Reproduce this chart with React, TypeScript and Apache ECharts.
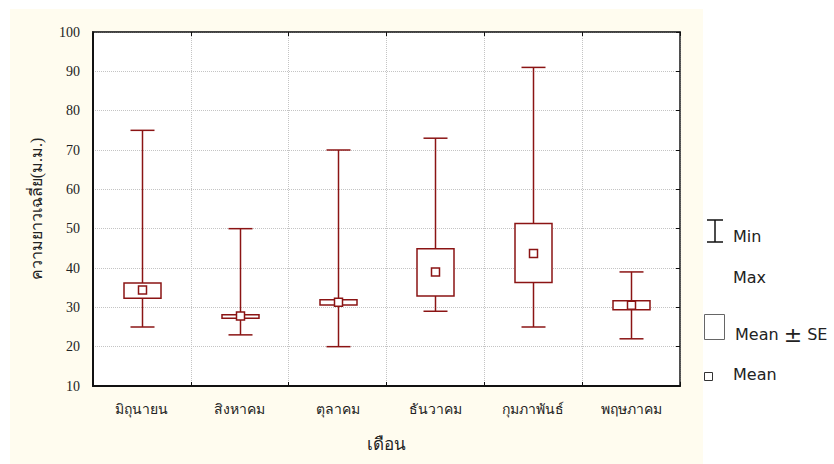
import React, { useEffect, useRef } from "react";
import * as echarts from "echarts";

const categories = ["มิถุนายน", "สิงหาคม", "ตุลาคม", "ธันวาคม", "กุมภาพันธ์", "พฤษภาคม"];
const minVals = [25, 23, 20, 29, 25, 22];
const maxVals = [75, 50, 70, 73, 91, 39];
const meanVals = [34.4, 27.8, 31.3, 39.0, 43.7, 30.5];
const seLow = [32.3, 27.2, 30.6, 32.9, 36.3, 29.4];
const seHigh = [36.2, 28.1, 31.9, 44.9, 51.3, 31.7];
const yTicks = { min: 10, max: 100, interval: 10 };

const RED = "#8B1414";

export default function App() {
  const ref = useRef<HTMLDivElement>(null);
  useEffect(() => {
    if (!ref.current) return;
    const chart = echarts.init(ref.current, undefined, { renderer: "svg" });
    const data = categories.map((_, i) => [i, minVals[i], maxVals[i], seLow[i], seHigh[i], meanVals[i]]);
    const serif = "'Liberation Serif', 'DejaVu Serif', serif";
    const sans = "'DejaVu Sans', 'Open Sans', sans-serif";
    chart.setOption({
      animation: false,
      backgroundColor: "#ffffff",
      graphic: [
        { type: "rect", z: -10, silent: true, shape: { x: 10, y: 9, width: 693, height: 455 }, style: { fill: "#FFFCEF" } },
        // legend
        { type: "line", shape: { x1: 707, y1: 220, x2: 723, y2: 220 }, style: { stroke: "#111", lineWidth: 1.5 } },
        { type: "line", shape: { x1: 715, y1: 220, x2: 715, y2: 242 }, style: { stroke: "#111", lineWidth: 1.5 } },
        { type: "line", shape: { x1: 707, y1: 242, x2: 723, y2: 242 }, style: { stroke: "#111", lineWidth: 1.5 } },
        { type: "text", x: 733, y: 236, style: { text: "Min", font: `16px ${sans}`, fill: "#222", verticalAlign: "middle" } },
        { type: "text", x: 733, y: 277, style: { text: "Max", font: `16px ${sans}`, fill: "#222", verticalAlign: "middle" } },
        { type: "rect", shape: { x: 704.5, y: 314.5, width: 20, height: 25 }, style: { fill: "none", stroke: "#666", lineWidth: 1 } },
        {
          type: "text", x: 735, y: 334,
          style: {
            text: "{a|Mean }{b|±}{a| SE}",
            verticalAlign: "middle",
            rich: {
              a: { fontFamily: sans, fontSize: 16, fill: "#222", color: "#222" },
              b: { fontFamily: sans, fontSize: 22, fill: "#222", color: "#222" },
            },
          },
        },
        { type: "rect", shape: { x: 704.5, y: 372.5, width: 8, height: 8 }, style: { fill: "none", stroke: "#333", lineWidth: 1 } },
        { type: "text", x: 733, y: 374, style: { text: "Mean", font: `16px ${sans}`, fill: "#222", verticalAlign: "middle" } },
      ],
      grid: {
        left: 93, right: 154, top: 32, bottom: 78,
        show: true, backgroundColor: "#ffffff", borderColor: "#444", borderWidth: 1.5,
      },
      xAxis: [
        {
          type: "category",
          data: categories,
          position: "bottom",
          name: "เดือน",
          nameLocation: "middle",
          nameGap: 50,
          nameTextStyle: { fontFamily: serif, fontSize: 17, color: "#222" },
          axisLine: { show: true, lineStyle: { color: "#111", width: 2 } },
          axisTick: { show: true, inside: true, length: 4, lineStyle: { color: "#111" } },
          axisLabel: { fontFamily: serif, fontSize: 14, color: "#222", margin: 16 },
          splitLine: { show: true, lineStyle: { color: "#c4c4c4", type: "dotted", width: 1 } },
        },
        {
          type: "category",
          data: categories,
          position: "top",
          axisLine: { show: true, lineStyle: { color: "#333", width: 1.5 } },
          axisTick: { show: true, inside: true, length: 4, lineStyle: { color: "#111" } },
          axisLabel: { show: false },
          splitLine: { show: false },
        },
      ],
      yAxis: [
        {
          type: "value",
          min: yTicks.min, max: yTicks.max, interval: yTicks.interval,
          name: "ความยาวเฉลี่ย(ม.ม.)",
          nameLocation: "middle",
          nameGap: 49,
          nameTextStyle: { fontFamily: serif, fontSize: 16, color: "#222" },
          axisLine: { show: true, lineStyle: { color: "#111", width: 2 } },
          axisTick: { show: false },
          axisLabel: { fontFamily: serif, fontSize: 14, color: "#222", margin: 13 },
          splitLine: { show: true, lineStyle: { color: "#c4c4c4", type: "dotted", width: 1 } },
        },
        {
          type: "value",
          position: "right",
          min: yTicks.min, max: yTicks.max, interval: yTicks.interval,
          axisLine: { show: true, lineStyle: { color: "#444", width: 1.5 } },
          axisTick: { show: true, inside: true, length: 4, lineStyle: { color: "#111" } },
          axisLabel: { show: false },
          splitLine: { show: false },
        },
      ],
      series: [
        {
          type: "custom",
          xAxisIndex: 0,
          yAxisIndex: 0,
          data,
          renderItem: (params: any, api: any) => {
            const i = api.value(0);
            const pMin = api.coord([i, api.value(1)]);
            const pMax = api.coord([i, api.value(2)]);
            const pLo = api.coord([i, api.value(3)]);
            const pHi = api.coord([i, api.value(4)]);
            const pMean = api.coord([i, api.value(5)]);
            const x = Math.round(pMin[0]) + 0.5;
            const capW = 12, boxW = 18.5, m = 4;
            const st = { stroke: RED, lineWidth: 1.5, fill: "none" };
            return {
              type: "group",
              children: [
                { type: "line", shape: { x1: x, y1: pMax[1], x2: x, y2: pMin[1] }, style: st },
                { type: "line", shape: { x1: x - capW, y1: pMax[1], x2: x + capW, y2: pMax[1] }, style: st },
                { type: "line", shape: { x1: x - capW, y1: pMin[1], x2: x + capW, y2: pMin[1] }, style: st },
                { type: "rect", shape: { x: x - boxW, y: pHi[1], width: boxW * 2, height: pLo[1] - pHi[1] }, style: { stroke: RED, lineWidth: 1.5, fill: "#ffffff" } },
                { type: "rect", shape: { x: x - m, y: pMean[1] - m, width: m * 2, height: m * 2 }, style: { stroke: RED, lineWidth: 1.5, fill: "#ffffff" } },
              ],
            };
          },
        },
      ],
    });
    return () => chart.dispose();
  }, []);
  return <div ref={ref} style={{ position: "absolute", left: 0, top: 0, width: 834, height: 464 }} />;
}
